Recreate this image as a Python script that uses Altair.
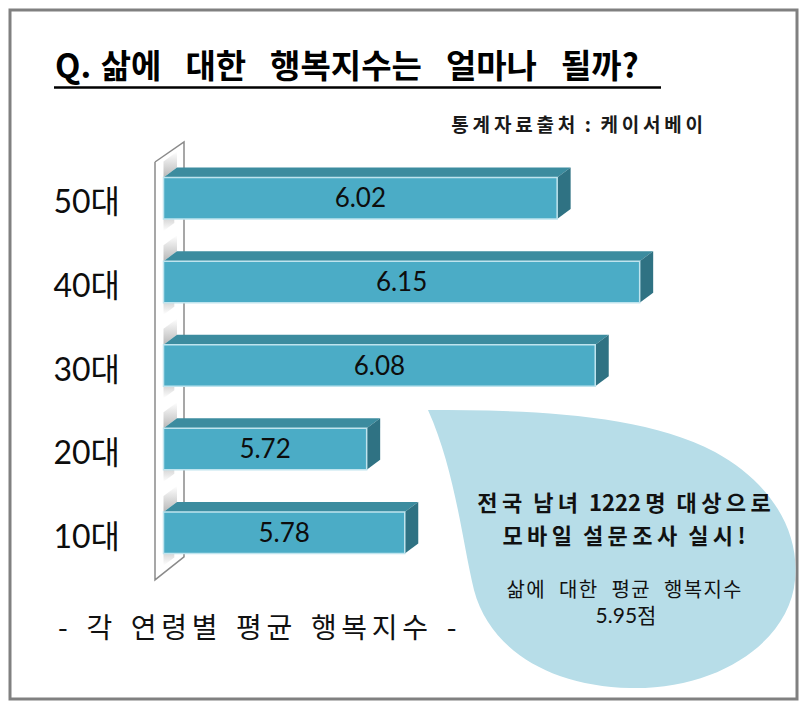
import altair as alt
import pandas as pd

# ---------------- data ----------------
ages = ["50대", "40대", "30대", "20대", "10대"]
scores = [6.02, 6.15, 6.08, 5.72, 5.78]
score_labels = ["6.02", "6.15", "6.08", "5.72", "5.78"]

title_lead = "Q."
title_raw = "삶에 대한 행복지수는 얼마나 될까?"
source_raw = "통계자료출처 : 케이서베이"
caption_raw = "- 각 연령별 평균 행복지수 -"
bubble_raw = ["전국 남녀 1222명 대상으로", "모바일 설문조사 실시!", "삶에 대한 평균 행복지수", "5.95점"]


def spaced(s, lg, wg):
    """letter-spacing emulation: insert lg between letters (not between ascii pairs), wg between words"""
    out = []
    for w in s.split(" "):
        buf = ""
        for i, ch in enumerate(w):
            if i > 0 and not (ch.isascii() and w[i - 1].isascii()):
                buf += lg
            buf += ch
        out.append(buf)
    return wg.join(out)


HAIR, SIX, THIN, EN, NB = "\u200a", "\u2006", "\u2009", "\u2002", "\u00a0"

title_text = title_lead + NB + HAIR + spaced(title_raw, "", EN + NB)
source_text = spaced(source_raw, THIN, EN)
caption_text = spaced(caption_raw, SIX, EN + SIX)
b1_text = spaced(bubble_raw[0], THIN, EN)
b2_text = spaced(bubble_raw[1], THIN, EN)
b3_text = spaced(bubble_raw[2], HAIR, EN + NB)
b4_text = bubble_raw[3]

# ---------------- layout ----------------
W, H, PAD = 787, 689, 2
BASE = 5.4
PXU = 634.9          # px per score unit
X0PX = 153.5         # plot px of BASE
XMIN = BASE - X0PX / PXU
XMAX = XMIN + W / PXU
ROW_PX = 83.6
ROW0_PX = 188.3
YMIN = -ROW0_PX / ROW_PX
YMAX = (H - ROW0_PX) / ROW_PX
HALF = 20.75 / ROW_PX
DX = 13.5 / PXU
DY = 10.0 / ROW_PX

FRONT = "#4BACC6"
TOP = "#3C8C9F"
SIDE = "#2F7283"
KFONT = "Noto Sans CJK KR"

xs = alt.Scale(domain=[XMIN, XMAX], nice=False, zero=False)
ys = alt.Scale(domain=[YMIN, YMAX], nice=False, zero=False, reverse=True)

rows = list(range(len(ages)))
front = pd.DataFrame({
    "age": ages, "row": rows, "base": BASE, "value": scores,
    "label": score_labels,
})
front["top"] = front["row"] - HALF
front["bottom"] = front["row"] + HALF
front["mid"] = (front["base"] + front["value"]) / 2

top_rows, side_rows, shade_rows, below_rows = [], [], [], []
for a, r, v in zip(ages, rows, scores):
    t, b = r - HALF, r + HALF
    top_rows += [{"age": a, "y": t, "xa": BASE, "xb": v},
                 {"age": a, "y": t - DY, "xa": BASE + DX, "xb": v + DX}]
    side_rows += [{"age": a, "x": v, "ya": b, "yb": t},
                  {"age": a, "x": v + DX, "ya": b - DY, "yb": t - DY}]
    up = 16.0 / ROW_PX
    shade_rows += [{"age": a + "u", "x": BASE, "ya": t - up, "yb": t},
                   {"age": a + "u", "x": BASE + DX, "ya": t - DY - up, "yb": t - DY}]
    dn = 12.0 / ROW_PX
    below_rows += [{"age": a + "d", "x": BASE, "ya": b, "yb": b + dn},
                   {"age": a + "d", "x": BASE + DX * 0.8, "ya": b - DY * 0.8, "yb": b - DY * 0.8 + dn}]
top_df = pd.DataFrame(top_rows)
side_df = pd.DataFrame(side_rows)
shade_df = pd.DataFrame(shade_rows)
below_df = pd.DataFrame(below_rows)

# wall outline (relative to baseline and first/last rows)
wl = BASE - 8.5 / PXU
wr = BASE + 20.5 / PXU
wall_df = pd.DataFrame({
    "x": [wl, wr, wr, wl, wl],
    "y": [rows[0] - 36.3 / ROW_PX, rows[0] - 56.3 / ROW_PX,
          rows[-1] + 24.2 / ROW_PX, rows[-1] + 47.2 / ROW_PX, rows[0] - 36.3 / ROW_PX],
    "o": [0, 1, 2, 3, 4],
})

one = pd.DataFrame({"k": [0]})

# teardrop bubble path (image px), normalised into a symbol path
cx, cy, S = 611.5, 550.0, 190.0
pts = [("M", [(428, 410)]),
       ("C", [(520, 410), (640, 412), (715, 452)]),
       ("C", [(770, 482), (800, 530), (795, 580)]),
       ("C", [(790, 640), (720, 690), (630, 688)]),
       ("C", [(550, 686), (490, 650), (474, 590)]),
       ("C", [(462, 540), (455, 470), (428, 410)])]
path = ""
for cmd, ps in pts:
    path += cmd + " ".join(f"{(px - cx) / S:.4f},{(py - cy) / S:.4f}" for px, py in ps) + " "
path += "Z"

bubble = alt.Chart(one).mark_point(
    shape=path, size=(2 * S) ** 2, filled=True, fill="#B7DDE8", opacity=1, strokeWidth=0
).encode(x=alt.value(cx - 10), y=alt.value(cy - 10))

wall = alt.Chart(wall_df).mark_line(color="#8A8A8A", strokeWidth=1.5).encode(
    x=alt.X("x:Q", scale=xs, axis=None),
    y=alt.Y("y:Q", scale=ys, axis=None),
    order="o:O",
)

grad_up = alt.Gradient(gradient="linear", x1=0, y1=0, x2=0, y2=1,
                       stops=[alt.GradientStop(color="#FFFFFF", offset=0),
                              alt.GradientStop(color="#B8B8B8", offset=1)])
grad_dn = alt.Gradient(gradient="linear", x1=0, y1=0, x2=0, y2=1,
                       stops=[alt.GradientStop(color="#BDBDBD", offset=0),
                              alt.GradientStop(color="#FFFFFF", offset=1)])

shade_up = alt.Chart(shade_df).mark_area(orient="vertical", color=grad_up).encode(
    x=alt.X("x:Q", scale=xs, axis=None),
    y=alt.Y("ya:Q", scale=ys, axis=None), y2="yb:Q", detail="age:N",
)
shade_dn = alt.Chart(below_df).mark_area(orient="vertical", color=grad_dn).encode(
    x=alt.X("x:Q", scale=xs, axis=None),
    y=alt.Y("ya:Q", scale=ys, axis=None), y2="yb:Q", detail="age:N",
)

top_face = alt.Chart(top_df).mark_area(orient="horizontal", color=TOP).encode(
    y=alt.Y("y:Q", scale=ys, axis=None),
    x=alt.X("xa:Q", scale=xs, axis=None), x2="xb:Q", detail="age:N",
)
side_face = alt.Chart(side_df).mark_area(orient="vertical", color=SIDE).encode(
    x=alt.X("x:Q", scale=xs, axis=None),
    y=alt.Y("ya:Q", scale=ys, axis=None), y2="yb:Q", detail="age:N",
)
front_face = alt.Chart(front).mark_rect(color=FRONT, stroke="#BFE4EE", strokeWidth=1.5).encode(
    x=alt.X("base:Q", scale=xs, axis=None), x2="value:Q",
    y=alt.Y("top:Q", scale=ys, axis=None), y2="bottom:Q",
)
value_text = alt.Chart(front).mark_text(
    font="Lato", fontSize=26, color="#0D0D0D", baseline="middle", dy=1
).encode(
    x=alt.X("mid:Q", scale=xs, axis=None),
    y=alt.Y("row:Q", scale=ys, axis=None),
    text="label:N",
)
age_text = alt.Chart(front).mark_text(
    font="Lato, " + KFONT, fontSize=32, color="#0D0D0D", baseline="middle", align="right", dy=5
).encode(
    x=alt.value(110),
    y=alt.Y("row:Q", scale=ys, axis=None),
    text="age:N",
)

title = alt.Chart(one).mark_text(
    text=title_text, font=KFONT, fontSize=33, fontWeight="bold", color="#000000",
    align="left", baseline="alphabetic"
).encode(x=alt.value(45), y=alt.value(68))
underline = alt.Chart(one).mark_rule(color="#000000", strokeWidth=2.5).encode(
    x=alt.value(44), x2=alt.value(651), y=alt.value(77.5)
)
source = alt.Chart(one).mark_text(
    text=source_text, font=KFONT, fontSize=19, fontWeight="bold", color="#1A1A1A",
    align="right", baseline="middle"
).encode(x=alt.value(693), y=alt.value(116))
caption = alt.Chart(one).mark_text(
    text=caption_text, font=KFONT, fontSize=28, color="#111111",
    align="left", baseline="middle"
).encode(x=alt.value(48), y=alt.value(620))

b1 = alt.Chart(one).mark_text(
    text=b1_text, font=KFONT, fontSize=22, fontWeight="bold", color="#111111",
    align="center", baseline="middle").encode(x=alt.value(614), y=alt.value(494))
b2 = alt.Chart(one).mark_text(
    text=b2_text, font=KFONT, fontSize=22, fontWeight="bold", color="#111111",
    align="center", baseline="middle").encode(x=alt.value(614), y=alt.value(527))
b3 = alt.Chart(one).mark_text(
    text=b3_text, font=KFONT, fontSize=20, color="#111111",
    align="center", baseline="middle").encode(x=alt.value(614), y=alt.value(581))
b4 = alt.Chart(one).mark_text(
    text=b4_text, font="Lato, " + KFONT, fontSize=21, color="#111111",
    align="center", baseline="middle").encode(x=alt.value(616), y=alt.value(607))

chart = alt.layer(
    bubble, wall, shade_up, shade_dn, top_face, side_face, front_face, value_text, age_text,
    title, underline, source, caption, b1, b2, b3, b4
).properties(
    width=W, height=H, padding=PAD, autosize=alt.AutoSizeParams(type="none"),
    background="#FFFFFF"
).configure_view(stroke="#808080", strokeWidth=3)

chart.save("out.html", embed_options={"renderer": "svg", "actions": False})
